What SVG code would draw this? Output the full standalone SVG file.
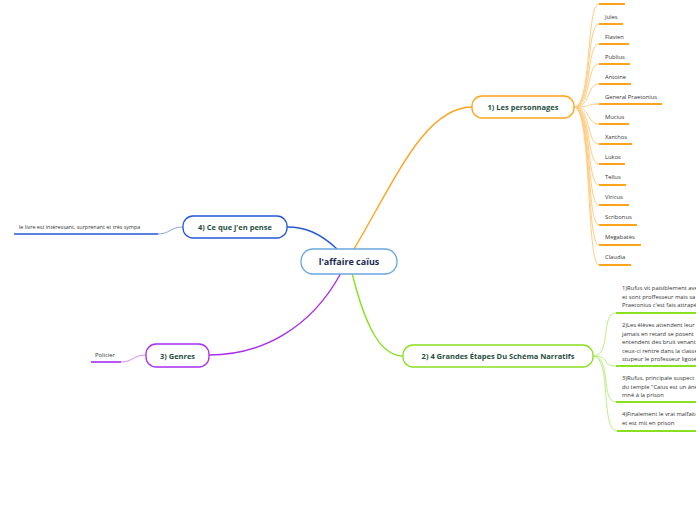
<svg xmlns="http://www.w3.org/2000/svg" width="696" height="520" viewBox="0 0 696 520">
<style>
.node rect{fill:#fff;stroke-width:1.3}
.lbl{font-family:"Open Sans","Liberation Sans",sans-serif;font-weight:bold;fill:#1f4e3d;text-anchor:middle;dominant-baseline:central}
.leaf{font-family:"Open Sans","Liberation Sans",sans-serif;font-size:5.8px;fill:#333}
.c{fill:none}
.o{stroke:#ffa31a}
.g{stroke:#88e01f}
.b{stroke:#2457d6}
.p{stroke:#a92cf0}
.thin{stroke-width:1;opacity:0.55}
.ul{stroke-width:2}
</style>
<rect width="696" height="520" fill="#fff"/>
<g id="connectors">
<path class="c o" stroke-width="1.4" d="M354,249 C395,180 425,107 472,107"/>
<path class="c g" stroke-width="1.4" d="M352,273 C365,325 380,356 403,356"/>
<path class="c b" stroke-width="1.4" d="M337,249 C320,233 305,227 287,227"/>
<path class="c p" stroke-width="1.4" d="M341,273 C310,330 260,355 209,355"/>
<g class="thin o">
<path class="c" d="M574,107 C592,107 586,4 599,4"/>
<path class="c" d="M574,107 C592,107 586,24 599,24"/>
<path class="c" d="M574,107 C592,107 586,44 599,44"/>
<path class="c" d="M574,107 C592,107 586,64 599,64"/>
<path class="c" d="M574,107 C592,107 586,84 599,84"/>
<path class="c" d="M574,107 C592,107 586,104 599,104"/>
<path class="c" d="M574,107 C592,107 586,124 599,124"/>
<path class="c" d="M574,107 C592,107 586,144 599,144"/>
<path class="c" d="M574,107 C592,107 586,164 599,164"/>
<path class="c" d="M574,107 C592,107 586,185 599,185"/>
<path class="c" d="M574,107 C592,107 586,205 599,205"/>
<path class="c" d="M574,107 C592,107 586,225 599,225"/>
<path class="c" d="M574,107 C592,107 586,245 599,245"/>
<path class="c" d="M574,107 C592,107 586,265 599,265"/>
</g>
<g class="thin g">
<path class="c" d="M593,356 C612,356 600,313 616,313"/>
<path class="c" d="M593,356 C612,356 600,366 616,366"/>
<path class="c" d="M593,356 C612,356 600,402 616,402"/>
<path class="c" d="M593,356 C612,356 600,431 617,431"/>
</g>
<path class="c b thin" d="M183,227 C170,227 170,234 158,234"/>
<path class="c p thin" d="M146,355 C133,355 133,362 121,362"/>
</g>
<g id="center" class="node">
<rect x="301" y="249" width="96" height="25" rx="12" stroke="#6aa6df"/>
<text class="lbl" x="349" y="261.5" font-size="9" fill="#1a2b52" style="fill:#1a2b52">l'affaire caïus</text>
</g>
<g id="n1" class="node">
<rect x="472" y="96" width="102" height="22" rx="10" stroke="#ffa31a"/>
<text class="lbl" x="523" y="107" font-size="7.5">1) Les personnages</text>
</g>
<g id="n2" class="node">
<rect x="403" y="345" width="190" height="22" rx="10" stroke="#88e01f"/>
<text class="lbl" x="498" y="356" font-size="7.5">2) 4 Grandes Étapes Du Schéma Narratifs</text>
</g>
<g id="n4" class="node">
<rect x="183" y="216" width="104" height="22" rx="10" stroke="#2457d6"/>
<text class="lbl" x="235" y="227" font-size="7.5">4) Ce que j'en pense</text>
</g>
<g id="n3" class="node">
<rect x="146" y="344" width="63" height="23" rx="10" stroke="#a92cf0"/>
<text class="lbl" x="177.5" y="355.5" font-size="7.5">3) Genres</text>
</g>
<g id="persos">
<g class="o ul"><line x1="599" y1="4" x2="625" y2="4"/></g>
<g><line class="o ul" x1="599" y1="24" x2="623" y2="24"/><text class="leaf" x="605" y="19">Jules</text></g>
<g><line class="o ul" x1="599" y1="44" x2="629" y2="44"/><text class="leaf" x="605" y="39">Flavien</text></g>
<g><line class="o ul" x1="599" y1="64" x2="630" y2="64"/><text class="leaf" x="605" y="59">Publius</text></g>
<g><line class="o ul" x1="599" y1="84" x2="631" y2="84"/><text class="leaf" x="605" y="79">Antoine</text></g>
<g><line class="o ul" x1="599" y1="104" x2="662" y2="104"/><text class="leaf" x="605" y="99">General Praetonius</text></g>
<g><line class="o ul" x1="599" y1="124" x2="629" y2="124"/><text class="leaf" x="605" y="119">Mucius</text></g>
<g><line class="o ul" x1="599" y1="144" x2="632" y2="144"/><text class="leaf" x="605" y="139">Xanthos</text></g>
<g><line class="o ul" x1="599" y1="164" x2="625" y2="164"/><text class="leaf" x="605" y="159">Lukos</text></g>
<g><line class="o ul" x1="599" y1="185" x2="626" y2="185"/><text class="leaf" x="605" y="179">Tellus</text></g>
<g><line class="o ul" x1="599" y1="205" x2="629" y2="205"/><text class="leaf" x="605" y="199">Viricus</text></g>
<g><line class="o ul" x1="599" y1="225" x2="637" y2="225"/><text class="leaf" x="605" y="219">Scribonus</text></g>
<g><line class="o ul" x1="599" y1="245" x2="641" y2="245"/><text class="leaf" x="605" y="239">Megabatès</text></g>
<g><line class="o ul" x1="599" y1="265" x2="631" y2="265"/><text class="leaf" x="605" y="259">Claudia</text></g>
</g>
<g id="etapes">
<g><line class="g ul" x1="616" y1="313" x2="696" y2="313"/>
<text class="leaf" x="622" y="290">1)Rufus vit paisiblement avec</text>
<text class="leaf" x="622" y="298.5">et sont proffesseur mais sa</text>
<text class="leaf" x="622" y="307">Praetonius c'est fais attrapé</text></g>
<g><line class="g ul" x1="616" y1="366" x2="696" y2="366"/>
<text class="leaf" x="622" y="327">2)Les élèves attendent leur</text>
<text class="leaf" x="622" y="335.5">jamais en retard se posent</text>
<text class="leaf" x="622" y="344">entendent des bruit venant</text>
<text class="leaf" x="622" y="352.5">ceux-ci rentre dans la classe</text>
<text class="leaf" x="622" y="361">stupeur le professeur ligoté</text></g>
<g><line class="g ul" x1="616" y1="402" x2="696" y2="402"/>
<text class="leaf" x="622" y="380">3)Rufus, principale suspect</text>
<text class="leaf" x="622" y="388.5">du temple "Caius est un âne</text>
<text class="leaf" x="622" y="397">mné à la prison</text></g>
<g><line class="g ul" x1="617" y1="431" x2="696" y2="431"/>
<text class="leaf" x="622" y="416">4)Finalement le vrai malfaiteur</text>
<text class="leaf" x="622" y="424.5">et est mit en prison</text></g>
</g>
<g id="avis">
<line class="b" stroke-width="1.6" x1="14" y1="234" x2="158" y2="234"/>
<text class="leaf" x="19" y="229" font-size="5.4" style="font-size:5.4px">le livre est intéressant, surprenant et très sympa</text>
</g>
<g id="genre">
<line class="p" stroke-width="1.6" x1="91" y1="362" x2="121" y2="362"/>
<text class="leaf" x="95" y="357">Policier</text>
</g>
</svg>
